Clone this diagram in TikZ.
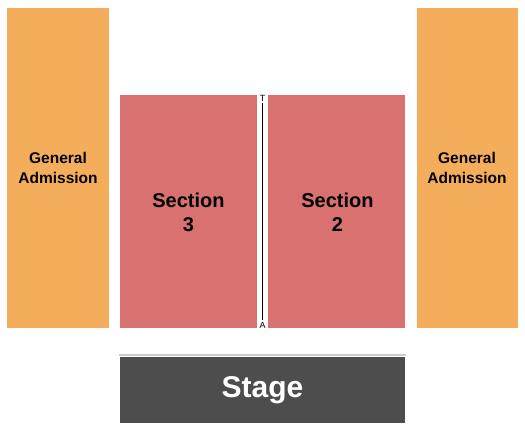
\documentclass[tikz,border=0pt]{standalone}
\usepackage{fontspec}
\setmainfont{Liberation Sans}
\definecolor{ga}{HTML}{F3AD5B}
\definecolor{sec}{HTML}{D97170}
\definecolor{stagec}{HTML}{4D4D4D}
\definecolor{linec}{HTML}{CCCCCC}
\begin{document}
\begin{tikzpicture}[x=1pt,y=-1pt,
  galbl/.style={font=\bfseries\fontsize{15.5}{20}\selectfont,align=center,inner sep=0pt},
  seclbl/.style={font=\bfseries\fontsize{20}{24}\selectfont,align=center,inner sep=0pt},
  tiny/.style={font=\fontsize{9}{9}\selectfont,inner sep=0pt}]
\useasboundingbox (0,0) rectangle (525,430);
\fill[ga] (7,8) rectangle (109,328);
\node[galbl] (gal) at (58,168) {General\\Admission};
\fill[ga] (417,8) rectangle (518,328);
\node[galbl] (gar) at (467,168) {General\\Admission};
\fill[sec] (120,95) rectangle (256.5,328);
\node[seclbl] (s3) at (188.5,212) {Section\\3};
\fill[sec] (268,95) rectangle (405,328);
\node[seclbl] (s2) at (337.5,212) {Section\\2};
\node[tiny] (t) at (262.5,98) {T};
\node[tiny] (a) at (262.5,325) {A};
\draw[black,line width=0.6pt] ([yshift=-1.5pt]t.south) -- ([yshift=1.5pt]a.north);
\draw[linec,line width=1.2pt] (119,355) -- (406,355);
\fill[stagec] (120,357) rectangle (405,423);
\node[font=\bfseries\fontsize{30}{34}\selectfont,text=white,inner sep=0pt] (st) at (262.5,390) {Stage};
\end{tikzpicture}
\end{document}
